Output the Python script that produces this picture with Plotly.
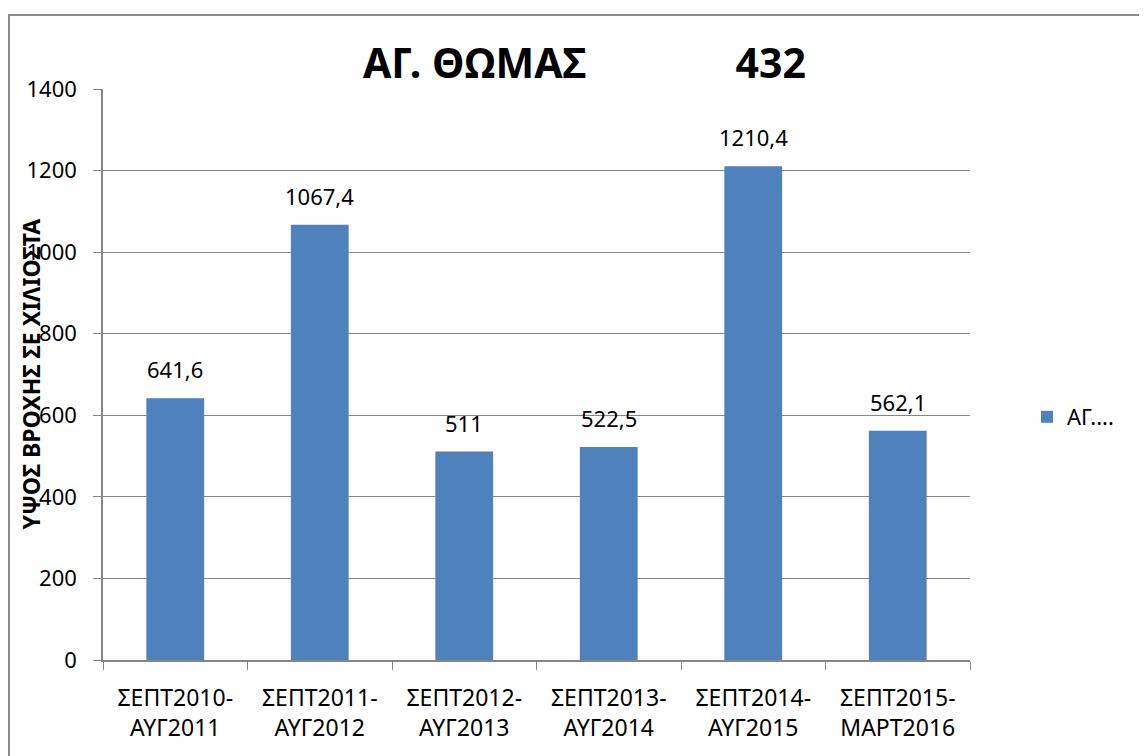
import plotly.graph_objects as go

categories = ["ΣΕΠΤ2010-<br>ΑΥΓ2011", "ΣΕΠΤ2011-<br>ΑΥΓ2012", "ΣΕΠΤ2012-<br>ΑΥΓ2013",
              "ΣΕΠΤ2013-<br>ΑΥΓ2014", "ΣΕΠΤ2014-<br>ΑΥΓ2015", "ΣΕΠΤ2015-<br>ΜΑΡΤ2016"]
values = [641.6, 1067.4, 511, 522.5, 1210.4, 562.1]
series_name = "ΑΓ...."
title_text = "ΑΓ. ΘΩΜΑΣ" + "\u00a0" * 14 + "432"
y_title = "ΥΨΟΣ ΒΡΟΧΗΣ ΣΕ ΧΙΛΙΟΣΤΑ"
y_ticks = [0, 200, 400, 600, 800, 1000, 1200, 1400]

labels = [f"{v:g}".replace(".", ",") for v in values]

FONT = "Noto Sans"
OFF = 8  # page body margin
W, H = 1147 - OFF, 756 - OFF
L, R, T, B = 95, 177, 81, 96
pw, ph = W - L - R, H - T - B


def px(xr):
    return (xr - OFF - L) / pw


def py(yr):
    return (H - B - (yr - OFF)) / ph


fig = go.Figure()
fig.add_trace(go.Bar(
    x=categories, y=values, name=series_name,
    marker=dict(color="#4F81BD", line=dict(width=0)),
    showlegend=True,
))

for c, v, t in zip(categories, values, labels):
    fig.add_annotation(x=c, y=v, text=t, showarrow=False, xref="x", yref="y",
                       yanchor="bottom", yshift=12,
                       font=dict(family=FONT, size=22, color="#000"))

fig.add_annotation(x=px(30), y=0.5, xref="paper", yref="paper",
                   text="<b>" + y_title + "</b>", textangle=-90, showarrow=False,
                   xanchor="center", yanchor="middle",
                   font=dict(family=FONT, size=23, color="#000"))

fig.add_shape(type="rect", xref="paper", yref="paper",
              x0=px(9), x1=px(1170), y0=py(780), y1=py(15),
              line=dict(color="#8a8a8a", width=2), fillcolor="rgba(0,0,0,0)", layer="below")

fig.update_layout(
    width=W, height=H,
    margin=dict(l=L, r=R, t=T, b=B),
    paper_bgcolor="white", plot_bgcolor="white",
    bargap=0.6,
    title=dict(text="<b>" + title_text + "</b>", x=(363 - OFF) / W, xanchor="left", xref="container",
               y=1 - (64 - OFF) / H, yanchor="middle", yref="container",
               font=dict(family=FONT, size=41, color="#000")),
    legend=dict(x=px(1027), xanchor="left", y=py(417), yanchor="middle",
                font=dict(family=FONT, size=22, color="#000"), bgcolor="rgba(0,0,0,0)"),
    font=dict(family=FONT, size=22, color="#000"),
)
fig.update_xaxes(showline=True, linecolor="#868686", linewidth=1.5,
                 ticks="outside", tickson="boundaries", ticklen=8, tickcolor="#868686",
                 ticklabelstandoff=17,
                 tickfont=dict(family=FONT, size=23, color="#000"), showgrid=False)
fig.update_yaxes(range=[0, 1400], tickvals=y_ticks, showline=True, linecolor="#868686", linewidth=1.5,
                 ticks="outside", ticklen=8, tickcolor="#868686", ticklabelstandoff=12,
                 showgrid=True, gridcolor="#868686", gridwidth=1, zeroline=False,
                 tickfont=dict(family=FONT, size=22, color="#000"))

fig.write_html("out.html")
